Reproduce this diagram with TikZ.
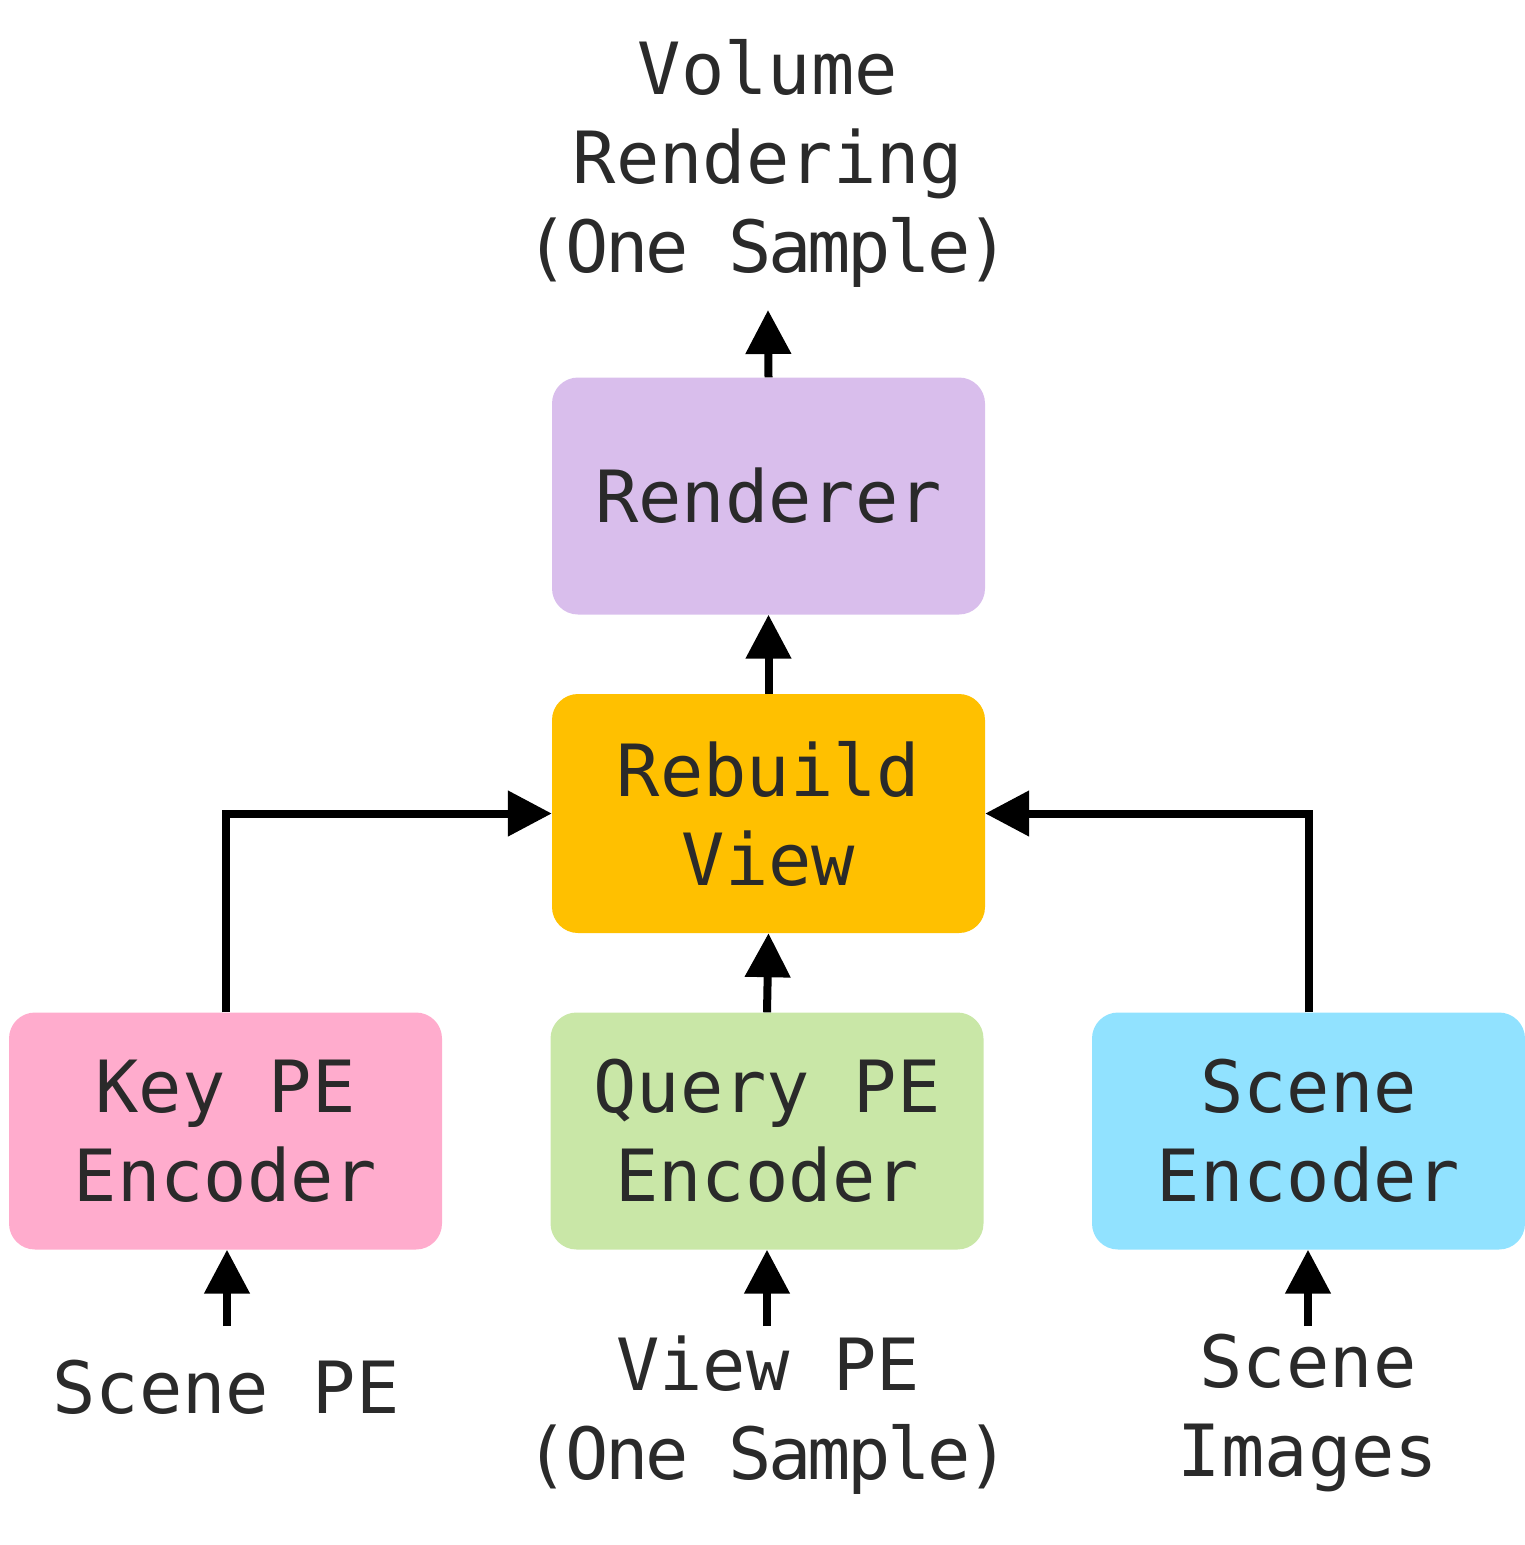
\documentclass[tikz,border=0pt]{standalone}
\usepackage{fontspec}
\setmonofont{DejaVu Sans Mono}
\newfontfamily\narrowmono[LetterSpace=-5]{DejaVu Sans Mono}
\usetikzlibrary{arrows.meta}
\definecolor{txt}{HTML}{2A2A2A}
\definecolor{cRend}{HTML}{D9BEEC}
\definecolor{cReb}{HTML}{FFC000}
\definecolor{cKey}{HTML}{FFACCD}
\definecolor{cQry}{HTML}{C9E7A7}
\definecolor{cScn}{HTML}{91E2FF}
\begin{document}
\begin{tikzpicture}[x=1pt,y=-1pt,
  lbl/.style={text=txt,align=center,inner sep=0pt,font=\ttfamily\fontsize{72}{89}\selectfont},
  blk/.style={lbl,rounded corners=26pt,minimum width=433pt,minimum height=237pt},
  conn/.style={line width=8pt,-{Triangle[length=44pt,width=44pt]}}]
\useasboundingbox (0,0) rectangle (1525,1545);
\node[blk,fill=cRend] (rend) at (768.5,496) {Renderer};
\node[blk,fill=cReb,minimum height=239pt] (reb) at (768.5,813.5) {Rebuild\\View};
\node[blk,fill=cKey] (key) at (225.5,1131) {Key PE\\Encoder};
\node[blk,fill=cQry] (qry) at (767,1131) {Query PE\\Encoder};
\node[blk,fill=cScn] (scn) at (1308.5,1131) {Scene\\Encoder};
\node[lbl] (top) at (768,163) {Volume\\Rendering\\{\narrowmono (One Sample)}};
\node[lbl] (spe) at (226,1387) {Scene PE};
\node[lbl] (vpe) at (768,1415) {View PE\\{\narrowmono (One Sample)}};
\node[lbl] (sim) at (1308,1413) {Scene\\Images};
\coordinate (topend) at (768,310);
\coordinate (b1) at (227,1326);
\coordinate (b2) at (767,1326);
\coordinate (b3) at (1308,1326);
\draw[conn] (rend.north) -- (topend);
\draw[conn] (reb.north) -- (rend.south);
\draw[conn] (qry.north) -- (reb.south);
\draw[conn] (key.north) |- (reb.west);
\draw[conn] (scn.north) |- (reb.east);
\draw[conn] (b1) -- (b1 |- key.south);
\draw[conn] (b2) -- (b2 |- qry.south);
\draw[conn] (b3) -- (b3 |- scn.south);
\end{tikzpicture}
\end{document}
